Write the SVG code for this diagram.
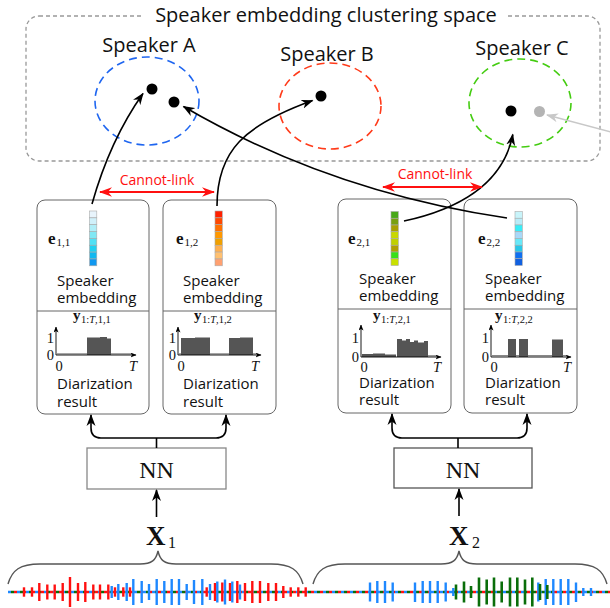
<svg xmlns="http://www.w3.org/2000/svg" width="610" height="608" viewBox="0 0 610 608">
<style>
.sans{font-family:"Open Sans","DejaVu Sans",sans-serif;fill:#111}
.serif{font-family:"Liberation Serif","Times New Roman",serif;fill:#111}
.box{fill:#fff;stroke:#666;stroke-width:1}
.div{stroke:#666;stroke-width:1}
.cell{stroke:#aaa;stroke-width:0.6}
.conn{fill:none;stroke:#000;stroke-width:1.6}
.axis{fill:none;stroke:#000;stroke-width:0.9}
.data{fill:#555}
.base{stroke:#888;stroke-width:1.3}
.lbl{font-size:15px}
.ax{font-size:14.5px}
.r{stroke:#ff1010;stroke-width:2.4}
.b{stroke:#1e88ff;stroke-width:2.4}
.g{stroke:#0a6e0a;stroke-width:2.6}
</style>
<defs>
<marker id="ah" viewBox="0 0 12 10" refX="11" refY="5" markerWidth="12" markerHeight="10" markerUnits="userSpaceOnUse" orient="auto"><path d="M0,0.5 L12,5 L0,9.5 L3.5,5 z" fill="#000"/></marker>
<marker id="ahg" viewBox="0 0 12 10" refX="11" refY="5" markerWidth="12" markerHeight="10" markerUnits="userSpaceOnUse" orient="auto"><path d="M0,0.5 L12,5 L0,9.5 L3.5,5 z" fill="#c8c8c8"/></marker>
<marker id="ahr" viewBox="0 0 13 10" refX="12" refY="5" markerWidth="13" markerHeight="10" markerUnits="userSpaceOnUse" orient="auto-start-reverse"><path d="M0,0.3 L13,5 L0,9.7 L4,5 z" fill="#ff1010"/></marker>
<marker id="ahs" viewBox="0 0 6 5" refX="5.5" refY="2.5" markerWidth="6" markerHeight="5" markerUnits="userSpaceOnUse" orient="auto"><path d="M0,0 L6,2.5 L0,5 L1.5,2.5 z" fill="#000"/></marker>
</defs>
<rect width="610" height="608" fill="#fff"/>

<g id="cluster-space">
<rect x="26" y="16" width="574" height="145" rx="13" fill="none" stroke="#999" stroke-width="1.3" stroke-dasharray="4 3"/>
<rect x="143" y="6" width="363" height="20" fill="#fff"/>
<text class="sans" x="326" y="22" font-size="20" text-anchor="middle">Speaker embedding clustering space</text>
</g>

<g id="speaker-a">
<text class="sans" x="149" y="52" font-size="20" text-anchor="middle">Speaker A</text>
<ellipse cx="147" cy="101" rx="52" ry="44" fill="none" stroke="#1f66f0" stroke-width="1.6" stroke-dasharray="8 5"/>
<circle cx="152" cy="89" r="5.5" fill="#000"/>
<circle cx="174" cy="102" r="5.5" fill="#000"/>
</g>
<g id="speaker-b">
<text class="sans" x="327" y="60.5" font-size="20" text-anchor="middle">Speaker B</text>
<ellipse cx="330" cy="106" rx="51" ry="43" fill="none" stroke="#ff3b1a" stroke-width="1.6" stroke-dasharray="8 5"/>
<circle cx="321" cy="96" r="5.5" fill="#000"/>
</g>
<g id="speaker-c">
<text class="sans" x="522" y="55" font-size="20" text-anchor="middle">Speaker C</text>
<ellipse cx="520" cy="103" rx="51" ry="44" fill="none" stroke="#44cc11" stroke-width="1.6" stroke-dasharray="8 5"/>
<circle cx="511" cy="111" r="5.5" fill="#000"/>
<circle cx="539.5" cy="111.5" r="5.5" fill="#b4b4b4"/>
</g>

<!-- Box 1,1 -->
<g id="box-1-1">
<rect class="box" x="37" y="200" width="112" height="214" rx="8"/>
<line class="div" x1="37" y1="311" x2="149" y2="311"/>
<text class="serif" x="48" y="244" font-size="17" font-weight="bold">e</text>
<text class="serif" x="56.5" y="246" font-size="11">1,1</text>
<g class="cell">
<rect x="89.5" y="211" width="7.3" height="6.85" fill="#e8f4fc"/>
<rect x="89.5" y="217.85" width="7.3" height="6.85" fill="#d0f0fa"/>
<rect x="89.5" y="224.7" width="7.3" height="6.85" fill="#b0eef8"/>
<rect x="89.5" y="231.55" width="7.3" height="6.85" fill="#80e8f4"/>
<rect x="89.5" y="238.4" width="7.3" height="6.85" fill="#50e0f4"/>
<rect x="89.5" y="245.25" width="7.3" height="6.85" fill="#20d0f0"/>
<rect x="89.5" y="252.1" width="7.3" height="6.85" fill="#10b8f0"/>
<rect x="89.5" y="258.95" width="7.3" height="6.85" fill="#1098f0"/>
</g>
<text class="sans lbl" x="57" y="285.5">Speaker</text>
<text class="sans lbl" x="57" y="303">embedding</text>
<text class="serif" x="73" y="320" font-size="15" font-weight="bold">y</text>
<text class="serif" x="81" y="323" font-size="10.5">1:<tspan font-style="italic">T</tspan>,1,1</text>
<line class="base" x1="57" y1="353.8" x2="132" y2="353.8"/>
<path class="data" d="M87,355 V337.6 H100 V337 H107 V338.6 H111 V355 Z"/>
<line class="axis" x1="56" y1="355" x2="56" y2="327" marker-end="url(#ahs)"/>
<line class="axis" x1="56" y1="355" x2="136" y2="355" marker-end="url(#ahs)"/>
<text class="serif ax" x="54" y="342.5" text-anchor="end">1</text>
<text class="serif ax" x="54" y="360" text-anchor="end">0</text>
<text class="serif ax" x="59" y="371" text-anchor="middle">0</text>
<text class="serif ax" x="133" y="371" text-anchor="middle" font-style="italic">T</text>
<text class="sans lbl" x="57" y="389">Diarization</text>
<text class="sans lbl" x="57" y="407">result</text>
</g>

<!-- Box 1,2 -->
<g id="box-1-2">
<rect class="box" x="163" y="200" width="113" height="214" rx="8"/>
<line class="div" x1="163" y1="311" x2="276" y2="311"/>
<text class="serif" x="176" y="244" font-size="17" font-weight="bold">e</text>
<text class="serif" x="184.5" y="246" font-size="11">1,2</text>
<g class="cell">
<rect x="215" y="211" width="7.3" height="6.85" fill="#ff2000"/>
<rect x="215" y="217.85" width="7.3" height="6.85" fill="#ff4800"/>
<rect x="215" y="224.7" width="7.3" height="6.85" fill="#ff7000"/>
<rect x="215" y="231.55" width="7.3" height="6.85" fill="#ff9800"/>
<rect x="215" y="238.4" width="7.3" height="6.85" fill="#f0a000"/>
<rect x="215" y="245.25" width="7.3" height="6.85" fill="#ffb050"/>
<rect x="215" y="252.1" width="7.3" height="6.85" fill="#ffc070"/>
<rect x="215" y="258.95" width="7.3" height="6.85" fill="#ffa070"/>
</g>
<text class="sans lbl" x="183" y="285.5">Speaker</text>
<text class="sans lbl" x="183" y="303">embedding</text>
<text class="serif" x="194" y="320" font-size="15" font-weight="bold">y</text>
<text class="serif" x="202" y="323" font-size="10.5">1:<tspan font-style="italic">T</tspan>,1,2</text>
<line class="base" x1="179" y1="353.8" x2="256" y2="353.8"/>
<path class="data" d="M181,355 V338 H195 V337.6 H210 V355 Z M229,355 V338 H240 V337.6 H253 V355 Z"/>
<line class="axis" x1="178" y1="355" x2="178" y2="327" marker-end="url(#ahs)"/>
<line class="axis" x1="178" y1="355" x2="261" y2="355" marker-end="url(#ahs)"/>
<text class="serif ax" x="176" y="342.5" text-anchor="end">1</text>
<text class="serif ax" x="176" y="360" text-anchor="end">0</text>
<text class="serif ax" x="181" y="371" text-anchor="middle">0</text>
<text class="serif ax" x="255" y="371" text-anchor="middle" font-style="italic">T</text>
<text class="sans lbl" x="183" y="389">Diarization</text>
<text class="sans lbl" x="183" y="407">result</text>
</g>

<!-- Box 2,1 -->
<g id="box-2-1">
<rect class="box" x="338" y="199" width="113" height="214" rx="8"/>
<line class="div" x1="338" y1="309" x2="451" y2="309"/>
<text class="serif" x="348" y="244" font-size="17" font-weight="bold">e</text>
<text class="serif" x="356.5" y="246" font-size="11">2,1</text>
<g class="cell">
<rect x="391" y="211.5" width="7.3" height="6.75" fill="#48a818"/>
<rect x="391" y="218.25" width="7.3" height="6.75" fill="#78a010"/>
<rect x="391" y="225" width="7.3" height="6.75" fill="#a8a000"/>
<rect x="391" y="231.75" width="7.3" height="6.75" fill="#c8d800"/>
<rect x="391" y="238.5" width="7.3" height="6.75" fill="#c0d000"/>
<rect x="391" y="245.25" width="7.3" height="6.75" fill="#b0a000"/>
<rect x="391" y="252" width="7.3" height="6.75" fill="#38e018"/>
<rect x="391" y="258.75" width="7.3" height="6.75" fill="#c8e000"/>
</g>
<text class="sans lbl" x="359" y="283.5">Speaker</text>
<text class="sans lbl" x="359" y="301">embedding</text>
<text class="serif" x="373" y="320" font-size="15" font-weight="bold">y</text>
<text class="serif" x="381" y="323" font-size="10.5">1:<tspan font-style="italic">T</tspan>,2,1</text>
<path class="data" d="M362,357 V354 H373 V353.4 H385 V354.4 H396 V357 Z"/>
<path class="data" d="M397,357 V339 H402 V340.5 H406 V339 H410 V342 H414 V340.5 H418 V342.5 H424 V341 H428 V357 Z"/>
<line class="base" x1="428" y1="355.8" x2="437" y2="355.8"/>
<line class="axis" x1="361" y1="357" x2="361" y2="325" marker-end="url(#ahs)"/>
<line class="axis" x1="361" y1="357" x2="441" y2="357" marker-end="url(#ahs)"/>
<text class="serif ax" x="359" y="343" text-anchor="end">1</text>
<text class="serif ax" x="359" y="362" text-anchor="end">0</text>
<text class="serif ax" x="364" y="372" text-anchor="middle">0</text>
<text class="serif ax" x="437" y="372" text-anchor="middle" font-style="italic">T</text>
<text class="sans lbl" x="359" y="387.5">Diarization</text>
<text class="sans lbl" x="359" y="405">result</text>
</g>

<!-- Box 2,2 -->
<g id="box-2-2">
<rect class="box" x="464" y="199" width="113" height="214" rx="8"/>
<line class="div" x1="464" y1="309" x2="577" y2="309"/>
<text class="serif" x="478" y="244" font-size="17" font-weight="bold">e</text>
<text class="serif" x="486.5" y="246" font-size="11">2,2</text>
<g class="cell">
<rect x="515" y="211.5" width="7.3" height="6.75" fill="#c8f4fa"/>
<rect x="515" y="218.25" width="7.3" height="6.75" fill="#b8ecf8"/>
<rect x="515" y="225" width="7.3" height="6.75" fill="#38eef8"/>
<rect x="515" y="231.75" width="7.3" height="6.75" fill="#a8d8f8"/>
<rect x="515" y="238.5" width="7.3" height="6.75" fill="#68e8f8"/>
<rect x="515" y="245.25" width="7.3" height="6.75" fill="#28c8e8"/>
<rect x="515" y="252" width="7.3" height="6.75" fill="#1070f0"/>
<rect x="515" y="258.75" width="7.3" height="6.75" fill="#1060e0"/>
</g>
<text class="sans lbl" x="485" y="283.5">Speaker</text>
<text class="sans lbl" x="485" y="301">embedding</text>
<text class="serif" x="495" y="320" font-size="15" font-weight="bold">y</text>
<text class="serif" x="503" y="323" font-size="10.5">1:<tspan font-style="italic">T</tspan>,2,2</text>
<line class="base" x1="492" y1="355.6" x2="566" y2="355.6"/>
<path class="data" d="M508,357 V339 H516 V357 Z M519,357 V339 H528 V357 Z M552,357 V339.5 H563 V357 Z"/>
<line class="axis" x1="491" y1="357" x2="491" y2="325" marker-end="url(#ahs)"/>
<line class="axis" x1="491" y1="357" x2="571" y2="357" marker-end="url(#ahs)"/>
<text class="serif ax" x="489" y="343" text-anchor="end">1</text>
<text class="serif ax" x="489" y="362" text-anchor="end">0</text>
<text class="serif ax" x="494" y="372" text-anchor="middle">0</text>
<text class="serif ax" x="567" y="372" text-anchor="middle" font-style="italic">T</text>
<text class="sans lbl" x="485" y="387.5">Diarization</text>
<text class="sans lbl" x="485" y="405">result</text>
</g>

<g id="nn-1">
<rect x="87" y="448" width="139" height="41" fill="#fff" stroke="#888" stroke-width="1.3"/>
<text class="serif" x="156.5" y="478" font-size="24" text-anchor="middle">NN</text>
</g>
<g id="nn-2">
<rect x="394" y="448" width="138" height="40" fill="#fff" stroke="#555" stroke-width="1.3"/>
<text class="serif" x="463" y="478" font-size="24" text-anchor="middle">NN</text>
</g>

<g id="input-x1">
<text class="serif" x="146" y="545" font-size="27" font-weight="bold">X</text>
<text class="serif" x="168" y="548" font-size="16">1</text>
<path d="M8,584 C12,570 20,564 40,564 L140,564 C152,564 156,560 158,551 C160,560 164,564 176,564 L271,564 C291,564 299,570 303,584" fill="none" stroke="#555" stroke-width="1.4"/>
</g>
<g id="input-x2">
<text class="serif" x="449" y="545" font-size="27" font-weight="bold">X</text>
<text class="serif" x="472" y="548" font-size="16">2</text>
<path d="M313,584 C317,570 325,564 345,564 L441,564 C453,564 457,560 459,551 C461,560 465,564 477,564 L575,564 C595,564 603,570 607,584" fill="none" stroke="#555" stroke-width="1.4"/>
</g>

<g id="waveform">
<line x1="8" y1="592" x2="610" y2="592" stroke="#1e88ff" stroke-width="2.4" stroke-dasharray="3 6"/>
<line x1="8" y1="592" x2="610" y2="592" stroke="#0a6e0a" stroke-width="2.4" stroke-dasharray="3 6" stroke-dashoffset="-3"/>
<line x1="8" y1="592" x2="610" y2="592" stroke="#ff1010" stroke-width="2.4" stroke-dasharray="3 6" stroke-dashoffset="-6"/>
<g class="r">
<line x1="24" y1="587.3" x2="24" y2="596.7"/>
<line x1="32" y1="587.3" x2="32" y2="596.7"/>
<line x1="39.3" y1="583" x2="39.3" y2="601"/>
<line x1="47.3" y1="584.5" x2="47.3" y2="599.5"/>
<line x1="54.7" y1="584.5" x2="54.7" y2="599.5"/>
<line x1="62.7" y1="583" x2="62.7" y2="601"/>
<line x1="70" y1="577" x2="70" y2="607"/>
<line x1="78" y1="583" x2="78" y2="601"/>
<line x1="85.3" y1="582" x2="85.3" y2="602"/>
<line x1="93.3" y1="584.5" x2="93.3" y2="599.5"/>
<line x1="100" y1="584.5" x2="100" y2="599.5"/>
<line x1="108.3" y1="584.5" x2="108.3" y2="599.5"/>
<line x1="115" y1="587.3" x2="115" y2="596.7"/>
<line x1="123.3" y1="587.3" x2="123.3" y2="596.7"/>
<line x1="130" y1="587.3" x2="130" y2="596.7"/>
<line x1="206.7" y1="587.3" x2="206.7" y2="596.7"/>
<line x1="215" y1="583" x2="215" y2="601"/>
<line x1="222.3" y1="582.5" x2="222.3" y2="601.5"/>
<line x1="230" y1="583" x2="230" y2="601"/>
<line x1="237.3" y1="581" x2="237.3" y2="603"/>
<line x1="245" y1="583" x2="245" y2="601"/>
<line x1="252.3" y1="581" x2="252.3" y2="603"/>
<line x1="260" y1="581" x2="260" y2="603"/>
<line x1="268.3" y1="583" x2="268.3" y2="601"/>
<line x1="276" y1="583" x2="276" y2="601"/>
<line x1="283.3" y1="586" x2="283.3" y2="598"/>
<line x1="290.7" y1="587.3" x2="290.7" y2="596.7"/>
<line x1="298.3" y1="587.3" x2="298.3" y2="596.7"/>
<line x1="305.7" y1="587.3" x2="305.7" y2="596.7"/>
</g>
<g class="b">
<line x1="111.7" y1="586" x2="111.7" y2="598"/>
<line x1="118.3" y1="584" x2="118.3" y2="600"/>
<line x1="126.7" y1="583" x2="126.7" y2="601"/>
<line x1="133.3" y1="579" x2="133.3" y2="605"/>
<line x1="141.7" y1="581" x2="141.7" y2="603"/>
<line x1="149" y1="584" x2="149" y2="600"/>
<line x1="156.7" y1="579" x2="156.7" y2="605"/>
<line x1="164.3" y1="581" x2="164.3" y2="603"/>
<line x1="171.7" y1="579" x2="171.7" y2="605"/>
<line x1="179" y1="579" x2="179" y2="605"/>
<line x1="186.7" y1="584" x2="186.7" y2="600"/>
<line x1="194" y1="580" x2="194" y2="604"/>
<line x1="202.3" y1="579" x2="202.3" y2="605"/>
<line x1="210" y1="584" x2="210" y2="600"/>
<line x1="217.3" y1="581.5" x2="217.3" y2="602.5"/>
<line x1="225" y1="579.5" x2="225" y2="604.5"/>
<line x1="232.3" y1="581.5" x2="232.3" y2="602.5"/>
<line x1="240" y1="584.5" x2="240" y2="599.5"/>
<line x1="370" y1="582.5" x2="370" y2="601.5"/>
<line x1="377.3" y1="581" x2="377.3" y2="603"/>
<line x1="385" y1="581" x2="385" y2="603"/>
<line x1="392.7" y1="582.5" x2="392.7" y2="601.5"/>
<line x1="415" y1="582.5" x2="415" y2="602"/>
<line x1="422.7" y1="581" x2="422.7" y2="603"/>
<line x1="430" y1="581" x2="430" y2="603"/>
<line x1="437.7" y1="581" x2="437.7" y2="603"/>
<line x1="445.7" y1="582.5" x2="445.7" y2="601.5"/>
<line x1="453.3" y1="588" x2="453.3" y2="596"/>
<line x1="538.3" y1="582.5" x2="538.3" y2="601.5"/>
<line x1="545.7" y1="579" x2="545.7" y2="605"/>
<line x1="553.3" y1="579" x2="553.3" y2="605"/>
<line x1="560.7" y1="579" x2="560.7" y2="605"/>
<line x1="568.3" y1="579" x2="568.3" y2="605"/>
<line x1="576" y1="582.5" x2="576" y2="602"/>
<line x1="583.3" y1="588" x2="583.3" y2="596"/>
<line x1="591" y1="588" x2="591" y2="596"/>
</g>
<g class="g">
<line x1="456" y1="584.5" x2="456" y2="599.5"/>
<line x1="464" y1="581.5" x2="464" y2="602.5"/>
<line x1="471" y1="586" x2="471" y2="598"/>
<line x1="479" y1="577.5" x2="479" y2="606.5"/>
<line x1="486.7" y1="579.5" x2="486.7" y2="604.5"/>
<line x1="494" y1="577.5" x2="494" y2="606.5"/>
<line x1="501.7" y1="581.5" x2="501.7" y2="602.5"/>
<line x1="510" y1="577.5" x2="510" y2="606.5"/>
<line x1="517.3" y1="577.5" x2="517.3" y2="606.5"/>
<line x1="525" y1="579.5" x2="525" y2="604.5"/>
<line x1="532.3" y1="577.5" x2="532.3" y2="606.5"/>
<line x1="540" y1="584" x2="540" y2="600"/>
<line x1="547.3" y1="585" x2="547.3" y2="599"/>
</g>
</g>

<g id="connectors">
<path class="conn" d="M92,204 Q110,140 143,93.5" marker-end="url(#ah)"/>
<path class="conn" d="M217,206 C217,150 245,125 312.5,100.5" marker-end="url(#ah)"/>
<path class="conn" d="M507,218 Q330,192 183.5,106.5" marker-end="url(#ah)"/>
<path class="conn" d="M404,221 Q500,200 512.8,134.5" marker-end="url(#ah)"/>
<line x1="611" y1="132" x2="547" y2="115" stroke="#c8c8c8" stroke-width="1.6" marker-end="url(#ahg)"/>
<line x1="100" y1="192" x2="214" y2="192" stroke="#ff1010" stroke-width="1.8" marker-start="url(#ahr)" marker-end="url(#ahr)"/>
<text class="sans" x="157" y="185" font-size="14" text-anchor="middle" style="fill:#ff1010">Cannot-link</text>
<line x1="383" y1="187" x2="482" y2="187" stroke="#ff1010" stroke-width="1.8" marker-start="url(#ahr)" marker-end="url(#ahr)"/>
<text class="sans" x="435" y="178.5" font-size="14" text-anchor="middle" style="fill:#ff1010">Cannot-link</text>
<path class="conn" d="M156.5,448 V438" />
<path class="conn" d="M101,438 H216" />
<path class="conn" d="M101,438 Q91,438 91,428 V415" marker-end="url(#ah)"/>
<path class="conn" d="M216,438 Q226,438 226,428 V415" marker-end="url(#ah)"/>
<path class="conn" d="M458,448 V438" />
<path class="conn" d="M402,438 H517" />
<path class="conn" d="M402,438 Q392,438 392,428 V414" marker-end="url(#ah)"/>
<path class="conn" d="M517,438 Q527,438 527,428 V414" marker-end="url(#ah)"/>
<path class="conn" d="M156.5,517 V490" marker-end="url(#ah)"/>
<path class="conn" d="M459,516 V489" marker-end="url(#ah)"/>
</g>
</svg>
